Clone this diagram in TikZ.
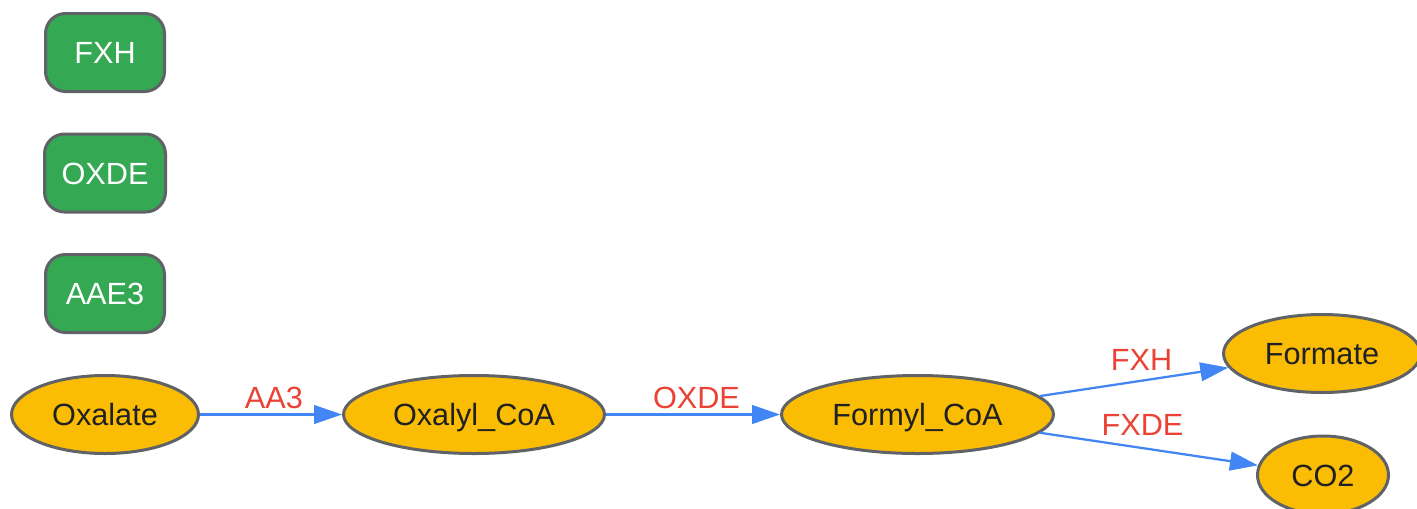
\documentclass[tikz,border=0pt]{standalone}
\usepackage{fontspec}
\setmainfont{Liberation Sans}
\usetikzlibrary{shapes.geometric,arrows.meta}
\definecolor{gnode}{HTML}{34A853}
\definecolor{ynode}{HTML}{FBBC04}
\definecolor{bord}{HTML}{5F6368}
\definecolor{lab}{HTML}{EA4335}
\definecolor{edgec}{HTML}{4285F4}
\definecolor{txt}{HTML}{202124}
\begin{document}
\begin{tikzpicture}[x=0.75pt,y=-0.75pt,
  fnt/.style={font=\fontsize{23}{27}\selectfont},
  enz/.style={fnt, draw=bord, line width=2.25pt, fill=gnode, rounded corners=15pt,
    minimum width=89.25pt, minimum height=58.5pt, inner sep=0pt, text=white,
    text height=16.5pt, text depth=0pt},
  met/.style={fnt, ellipse, draw=bord, line width=2.25pt, fill=ynode,
    minimum height=58.5pt, inner sep=0pt, text=txt,
    text height=16.5pt, text depth=0pt},
  rxn/.style={draw=edgec, line width=1.7pt, -{Triangle[length=21pt,width=14pt]}},
  rlab/.style={fnt, text=lab, anchor=base, inner sep=0pt}
]
\useasboundingbox (0,0) rectangle (1417,508);
\node[enz] (FXHe) at (105,52.5) {FXH};
\node[enz, minimum width=90.75pt] (OXDEe) at (105,173) {OXDE};
\node[enz] (AAE3e) at (105,293.5) {AAE3};
\node[met, minimum width=140.25pt] (oxalate) at (105,414.5) {Oxalate};
\node[met, minimum width=195.75pt] (oxalyl) at (474,414.5) {Oxalyl\_CoA};
\node[met, minimum width=204pt] (formyl) at (917.5,414.5) {Formyl\_CoA};
\node[met, minimum width=147.75pt] (formate) at (1322,353.5) {Formate};
\node[met, minimum width=98.25pt] (co2) at (1323,475) {CO2};
\draw[rxn] (oxalate) -- node[rlab, pos=0.52, yshift=4.5pt] {AA3} (oxalyl);
\draw[rxn] (oxalyl) -- node[rlab, pos=0.52, yshift=4.5pt] {OXDE} (formyl);
\draw[rxn] (formyl) -- node[rlab, pos=0.54, yshift=8pt] {FXH} (formate);
\draw[rxn] (formyl) -- node[rlab, pos=0.47, yshift=9.5pt] {FXDE} (co2);
\end{tikzpicture}
\end{document}
